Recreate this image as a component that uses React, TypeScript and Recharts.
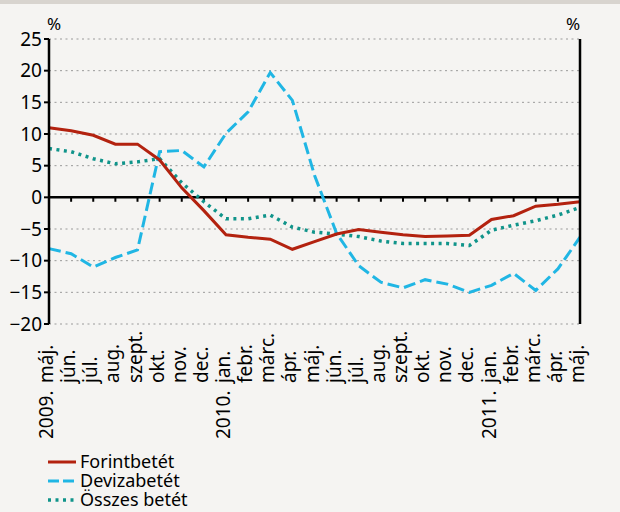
import { LineChart, Line, XAxis, YAxis, CartesianGrid, ReferenceLine } from 'recharts';

const months = [
  'máj.', 'jún.', 'júl.', 'aug.', 'szept.', 'okt.', 'nov.', 'dec.',
  'jan.', 'febr.', 'márc.', 'ápr.', 'máj.', 'jún.', 'júl.', 'aug.',
  'szept.', 'okt.', 'nov.', 'dec.', 'jan.', 'febr.', 'márc.', 'ápr.', 'máj.',
];
const years = [
  '2009.', '', '', '', '', '', '', '',
  '2010.', '', '', '', '', '', '', '',
  '', '', '', '', '2011.', '', '', '', '',
];

const forint = [
  11.0, 10.5, 9.8, 8.4, 8.4, 5.9, 1.5, -2.1, -5.9, -6.3, -6.6, -8.2, -7.0,
  -5.8, -5.1, -5.5, -5.9, -6.2, -6.1, -6.0, -3.5, -2.9, -1.4, -1.1, -0.7,
];
const deviza = [
  -8.1, -8.9, -11.0, -9.5, -8.3, 7.2, 7.4, 4.8, 10.1, 13.5, 19.7, 15.3, 3.5,
  -5.7, -10.8, -13.4, -14.3, -13.0, -13.7, -15.0, -13.9, -12.0, -14.7, -11.3, -6.3,
];
const osszes = [
  7.7, 7.2, 6.1, 5.3, 5.6, 6.1, 2.3, -0.7, -3.4, -3.4, -2.8, -4.7, -5.5,
  -5.8, -6.2, -6.9, -7.3, -7.3, -7.3, -7.6, -5.2, -4.4, -3.7, -2.8, -1.6,
];
const yTicks = [-20, -15, -10, -5, 0, 5, 10, 15, 20, 25];

const RED = '#b3220f';
const BLUE = '#20b6e4';
const TEAL = '#10948a';
const FONT = '"Noto Sans", sans-serif';

const data = months.map((m, i) => ({
  key: `k${i}`,
  month: m,
  year: years[i],
  forint: forint[i],
  deviza: deviza[i],
  osszes: osszes[i],
}));

const fmt = (v: number) => (v < 0 ? `\u2212${Math.abs(v)}` : `${v}`);

const MonthTick = ({ x, y, payload }: any) => {
  const d = data.find((r) => r.key === payload.value);
  if (!d) return null;
  return (
    <g transform={`translate(${x},${y})`}>
      <text transform="translate(0,59) rotate(-90)" dy={4} textAnchor="start" fontSize={19} fill="#000">
        {d.month}
      </text>
      {d.year && (
        <text transform="translate(0,115) rotate(-90)" dy={4} textAnchor="start" fontSize={19} fill="#000">
          {d.year}
        </text>
      )}
    </g>
  );
};

const RightTick = ({ y, payload }: any) => (
  <text x={620} y={y} dy="0.35em" textAnchor="end" fontSize={19} fill="#000">
    {fmt(payload.value)}
  </text>
);

const LegendRow = ({ color, dash, width, label }: any) => (
  <div style={{ display: 'flex', alignItems: 'center', height: 19 }}>
    <svg width={34} height={10}>
      <line x1={2} y1={5} x2={30} y2={5} stroke={color} strokeWidth={width} strokeDasharray={dash} />
    </svg>
    <span style={{ fontSize: 18, color: '#000', lineHeight: '19px' }}>{label}</span>
  </div>
);

export default function App() {
  return (
    <div
      style={{
        position: 'absolute',
        left: 0,
        top: 0,
        width: 620,
        height: 512,
        background: '#f5f4f2',
        fontFamily: FONT,
        overflow: 'hidden',
      }}
    >
      <div style={{ position: 'absolute', left: 0, top: 0, width: 620, height: 4, background: '#d8d4cf' }} />
      <div style={{ position: 'absolute', left: 47, top: 12, fontSize: 17, color: '#000' }}>%</div>
      <div style={{ position: 'absolute', left: 566, top: 12, fontSize: 17, color: '#000' }}>%</div>
      <LineChart
        width={620}
        height={512}
        data={data}
        margin={{ top: 39, right: 0, left: 0, bottom: 0 }}
      >
        <CartesianGrid vertical={false} stroke="#9a9a9a" strokeDasharray="2 3.5" yAxisId="left" />
        <XAxis
          dataKey="key"
          height={188}
          tick={<MonthTick />}
          tickLine={false}
          axisLine={false}
          tickSize={0}
          tickMargin={0}
          interval={0}
        />
        <YAxis
          yAxisId="left"
          width={49}
          domain={[-20, 25]}
          ticks={yTicks}
          tickFormatter={fmt}
          axisLine={{ stroke: '#000', strokeWidth: 2.5 }}
          tickLine={{ stroke: '#000', strokeWidth: 2 }}
          tickSize={5}
          tickMargin={2}
          tick={{ fontSize: 19, fill: '#000' }}
          interval={0}
        />
        <YAxis
          yAxisId="right"
          orientation="right"
          width={40}
          domain={[-20, 25]}
          ticks={yTicks}
          axisLine={{ stroke: '#000', strokeWidth: 2.5 }}
          tickLine={{ stroke: '#000', strokeWidth: 2 }}
          tickSize={4}
          tick={<RightTick />}
          interval={0}
        />
        <ReferenceLine yAxisId="left" y={0} stroke="#000" strokeWidth={2.5} />
        {data.map((d) => (
          <ReferenceLine
            key={d.key}
            yAxisId="left"
            segment={[{ x: d.key, y: 0 }, { x: d.key, y: -0.7 }]}
            stroke="#000"
            strokeWidth={2}
          />
        ))}
        <Line
          yAxisId="left"
          type="linear"
          dataKey="osszes"
          stroke={TEAL}
          strokeWidth={3.5}
          strokeDasharray="3 4.5"
          dot={false}
          isAnimationActive={false}
        />
        <Line
          yAxisId="left"
          type="linear"
          dataKey="deviza"
          stroke={BLUE}
          strokeWidth={3}
          strokeDasharray="12 5"
          dot={false}
          isAnimationActive={false}
        />
        <Line
          yAxisId="left"
          type="linear"
          dataKey="forint"
          stroke={RED}
          strokeWidth={3}
          dot={false}
          isAnimationActive={false}
        />
      </LineChart>
      <div style={{ position: 'absolute', left: 46, top: 452 }}>
        <LegendRow color={RED} width={3} label="Forintbetét" />
        <LegendRow color={BLUE} width={3} dash="11 4" label="Devizabetét" />
        <LegendRow color={TEAL} width={3.5} dash="3 4.5" label="Összes betét" />
      </div>
    </div>
  );
}
